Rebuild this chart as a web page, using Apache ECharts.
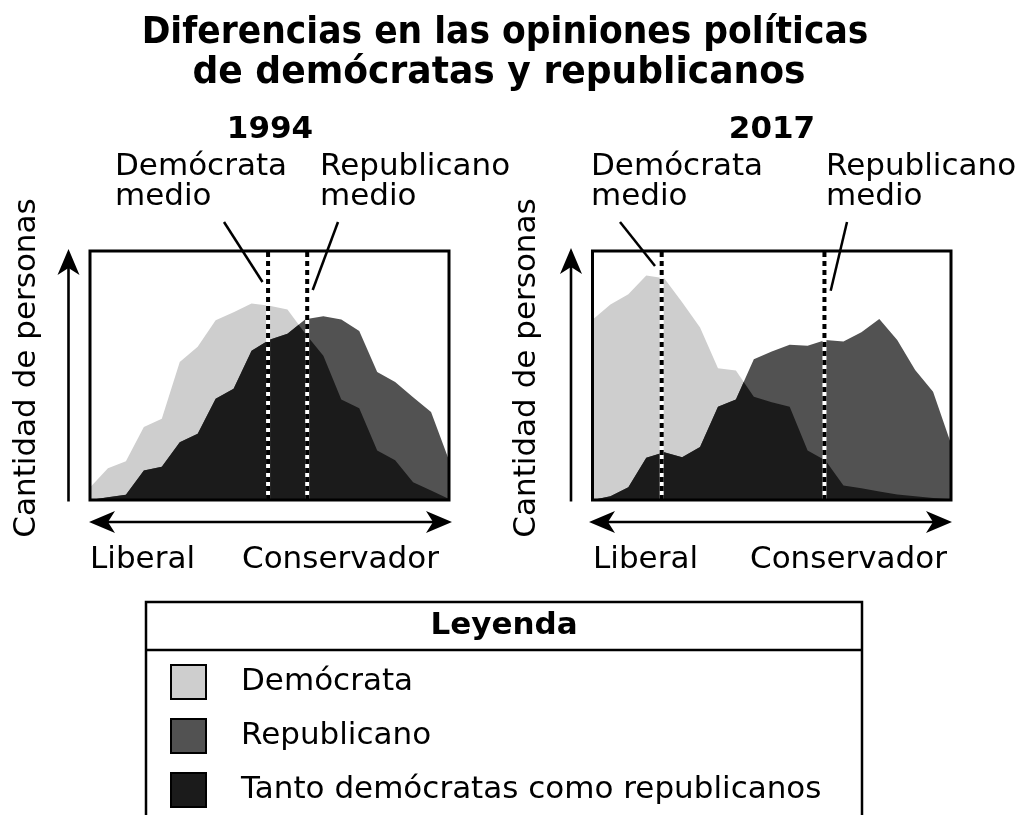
<!DOCTYPE html>
<html>
<head>
<meta charset="utf-8">
<script src="https://cdn.jsdelivr.net/npm/echarts@6/dist/echarts.min.js"></script>
<style>html,body{margin:0;padding:0;background:#fff}#c{width:1020px;height:815px}</style>
</head>
<body>
<div id="c"></div>
<script>
// Position along the liberal (0) – conservative (100) scale
const xPos = [0, 5, 10, 15, 20, 25, 30, 35, 40, 45, 50, 55, 60, 65, 70, 75, 80, 85, 90, 95, 100];
// Relative number of people (0-100) – 1994
const dem1994 = [5, 12.8, 15.6, 29.3, 32.6, 55.4, 61.5, 72.2, 75.4, 78.9, 78, 76.5, 66.8, 57.9, 40.4, 36.8, 19.9, 16, 7.1, 3.8, 0.4];
const rep1994 = [0, 1.1, 2.1, 11.8, 13.4, 23.2, 26.6, 40.7, 44.7, 59.9, 64.4, 66.8, 72.6, 73.8, 72.5, 67.9, 51.4, 47.4, 41.3, 35.3, 16];
// 2017
const dem2017 = [72.4, 78.5, 82.6, 90.2, 89.1, 79.4, 69.3, 52.9, 52, 41.5, 39.3, 37.4, 19.9, 15.9, 5.8, 4.7, 3.4, 2.2, 1.5, 0.8, 0.3];
const rep2017 = [0, 1.5, 5.1, 17, 19.2, 17.2, 21.3, 37.4, 40.4, 56.5, 59.6, 62.3, 61.9, 64.3, 63.7, 67.4, 72.7, 64.3, 52.2, 43.5, 22.6];
// Median positions [Demócrata, Republicano]
const median1994 = [49.6, 60.5];
const median2017 = [19.3, 64.7];
const years = ['1994', '2017'];
const names = ['Demócrata', 'Republicano', 'Tanto demócratas como republicanos'];

const COL = {dem: '#cecece', rep: '#525252', both: '#1b1b1b'};
const FONT = '"DejaVu Sans", Verdana, sans-serif';

function pairs(xs, ys) { return xs.map((x, i) => [x, ys[i]]); }
function overlap(xs, a, b) {
  const out = [];
  for (let i = 0; i < xs.length; i++) {
    if (i > 0) {
      const d0 = a[i-1] - b[i-1], d1 = a[i] - b[i];
      if (d0 * d1 < 0) {
        const t = d0 / (d0 - d1);
        out.push([xs[i-1] + t * (xs[i] - xs[i-1]), a[i-1] + t * (a[i] - a[i-1])]);
      }
    }
    out.push([xs[i], Math.min(a[i], b[i])]);
  }
  return out;
}

const panels = [
  {dem: dem1994, rep: rep1994, med: median1994},
  {dem: dem2017, rep: rep2017, med: median2017}
];

const grids = [
  {left: 90, top: 251, width: 359, height: 249},
  {left: 592.5, top: 251, width: 358.5, height: 249}
];

const series = [];
panels.forEach((p, g) => {
  const base = {type: 'line', xAxisIndex: g, yAxisIndex: g, showSymbol: false, symbol: 'none', silent: true, animation: false};
  series.push(Object.assign({}, base, {name: names[0], data: pairs(xPos, p.dem), color: COL.dem, lineStyle: {width: 0}, areaStyle: {color: COL.dem, opacity: 1}, z: 2}));
  series.push(Object.assign({}, base, {name: names[1], data: pairs(xPos, p.rep), color: COL.rep, lineStyle: {width: 0}, areaStyle: {color: COL.rep, opacity: 1}, z: 3}));
  series.push(Object.assign({}, base, {name: names[2], data: overlap(xPos, p.dem, p.rep), color: COL.both, lineStyle: {width: 0}, areaStyle: {color: COL.both, opacity: 1}, z: 4}));
  p.med.forEach((m, k) => {
    series.push(Object.assign({}, base, {name: 'medW' + g + k, data: [[m, 0], [m, 100]], lineStyle: {color: '#fff', width: 4}, z: 5}));
    series.push(Object.assign({}, base, {name: 'medB' + g + k, data: [[m, 0], [m, 100]], lineStyle: {color: '#000', width: 4, type: [5, 4]}, z: 6}));
  });
  series.push(Object.assign({}, base, {name: 'frame' + g, clip: false, data: [[0, 0], [0, 100], [100, 100], [100, 0], [0, 0]], lineStyle: {color: '#000', width: 3, join: 'miter', cap: 'square'}, z: 10}));
});

function txt(x, y, s, size, opts) {
  opts = opts || {};
  return {type: 'text', x: x, y: y, rotation: opts.rot || 0, scaleX: opts.sx || 1, silent: true, z: 20,
    style: {text: s, fill: '#000', font: (opts.bold ? 'bold ' : '') + size + 'px ' + FONT,
      align: opts.align || 'left', verticalAlign: 'middle'}};
}
function line(x1, y1, x2, y2, w) {
  return {type: 'line', silent: true, z: 20, shape: {x1: x1, y1: y1, x2: x2, y2: y2}, style: {stroke: '#000', lineWidth: w || 2.5}};
}
function arrowH(x1, x2, y) {
  return [
    line(x1 + 8, y, x2 - 8, y, 2.6),
    {type: 'polygon', silent: true, z: 20, shape: {points: [[x2, y], [x2 - 26, y - 11], [x2 - 19, y], [x2 - 26, y + 11]]}, style: {fill: '#000'}},
    {type: 'polygon', silent: true, z: 20, shape: {points: [[x1, y], [x1 + 26, y - 11], [x1 + 19, y], [x1 + 26, y + 11]]}, style: {fill: '#000'}}
  ];
}
function arrowV(x, yTop, yBot) {
  return [
    line(x, yBot, x, yTop + 8, 2.6),
    {type: 'polygon', silent: true, z: 20, shape: {points: [[x, yTop], [x - 11, yTop + 26], [x, yTop + 19], [x + 11, yTop + 26]]}, style: {fill: '#000'}}
  ];
}

const graphics = [
  txt(505, 33, 'Diferencias en las opiniones políticas', 38, {bold: true, align: 'center', sx: 0.91}),
  txt(499, 73, 'de demócratas y republicanos', 38, {bold: true, align: 'center', sx: 0.95}),
  // Panel 1994
  txt(270, 130, years[0], 31, {bold: true, align: 'center'}),
  txt(115, 167, 'Demócrata', 31), txt(115, 197, 'medio', 31),
  txt(320, 167, 'Republicano', 31), txt(320, 197, 'medio', 31),
  line(224, 222, 262.5, 282), line(338, 222, 312.7, 290),
  txt(27, 368, 'Cantidad de personas', 31, {align: 'center', rot: Math.PI / 2}),
  ...arrowV(68.5, 249, 501.5),
  ...arrowH(89, 452, 522),
  txt(90, 560, 'Liberal', 31), txt(242, 560, 'Conservador', 31),
  // Panel 2017
  txt(772, 130, years[1], 31, {bold: true, align: 'center'}),
  txt(591, 167, 'Demócrata', 31), txt(591, 197, 'medio', 31),
  txt(826, 167, 'Republicano', 31), txt(826, 197, 'medio', 31),
  line(620, 222, 655, 266), line(847, 222, 830.7, 290.7),
  txt(527, 368, 'Cantidad de personas', 31, {align: 'center', rot: Math.PI / 2}),
  ...arrowV(571, 248, 501.5),
  ...arrowH(589, 952, 522),
  txt(593, 560, 'Liberal', 31), txt(750, 560, 'Conservador', 31),
  // Legend frame
  {type: 'rect', silent: true, z: 1, shape: {x: 146, y: 602, width: 716, height: 260}, style: {fill: 'none', stroke: '#000', lineWidth: 2.5}},
  line(146, 650, 862, 650, 2.5),
  txt(504, 626, 'Leyenda', 31, {bold: true, align: 'center'})
];

const chart = echarts.init(document.getElementById('c'), null, {renderer: 'canvas'});
chart.setOption({
  animation: false,
  backgroundColor: '#fff',
  grid: grids.map(g => Object.assign({containLabel: false, show: false}, g)),
  xAxis: grids.map((g, i) => ({type: 'value', gridIndex: i, min: 0, max: 100, show: false})),
  yAxis: grids.map((g, i) => ({type: 'value', gridIndex: i, min: 0, max: 100, show: false})),
  legend: {
    orient: 'vertical', left: 170, top: 664, width: 690, height: 150, padding: 0,
    itemWidth: 35, itemHeight: 34, itemGap: 18,
    selectedMode: false, icon: 'rect',
    data: names.map((n, i) => ({name: n, icon: 'rect', itemStyle: {color: [COL.dem, COL.rep, COL.both][i], borderColor: '#000', borderWidth: 2}})),
    textStyle: {fontSize: 31, fontFamily: FONT, color: '#000', padding: [0, 0, 0, 30], lineHeight: 32}
  },
  series: series,
  graphic: graphics
});
</script>
</body>
</html>
